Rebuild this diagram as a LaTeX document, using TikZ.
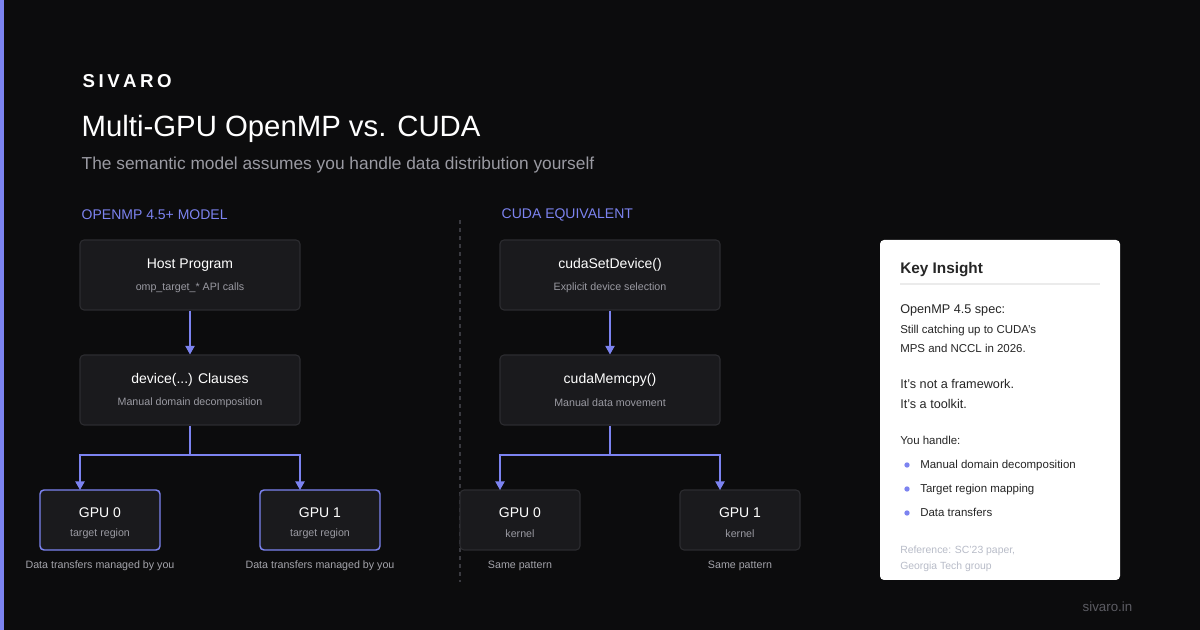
\documentclass[tikz,border=0pt]{standalone}
\usepackage{fontspec}
\setmainfont{Liberation Sans}
\usetikzlibrary{positioning,arrows.meta}
\definecolor{bg}{HTML}{0C0C0D}
\definecolor{accent}{HTML}{7C83F0}
\definecolor{boxfill}{HTML}{1A1A1D}
\definecolor{boxline}{HTML}{2C2C30}
\definecolor{sepline}{HTML}{3A3A40}
\definecolor{muted}{HTML}{9A9AA2}
\definecolor{faint}{HTML}{B8BCC8}
\definecolor{sitegray}{HTML}{5C5C63}
\newcommand{\fs}[1]{\fontsize{#1}{#1}\selectfont}

\begin{document}
\begin{tikzpicture}
    [ x = .75pt, y = -.75pt
    , stage/.style =
      { draw = boxline, fill = boxfill, rounded corners = 3pt, line width = .8pt
      , minimum width = 165pt, minimum height = 52.5pt, inner sep = 0pt }
    , gpu/.style =
      { stage, minimum width = 90pt, minimum height = 45pt }
    , gpuon/.style =
      { gpu, draw = accent, line width = 1.1pt }
    , head/.style =
      { text = white, font = \fs{10.5} }
    , sub/.style =
      { text = muted, font = \fs{8} }
    , note/.style =
      { text = muted!90, font = \fs{8} }
    , flow/.style =
      { draw = accent, line width = 1.1pt, -{Triangle[length=6.5pt,width=7pt]} }
    , link/.style =
      { draw = accent, line width = 1.1pt }
    , card/.style =
      { anchor = base west, text = black!85, font = \fs{9.5}, inner sep = 0pt }
    , dot/.style =
      { circle, fill = accent, inner sep = 0pt, minimum size = 4pt }
    ]
    \useasboundingbox [fill = bg] (0,0) rectangle (1200,630);
    \fill [accent] (0,0) rectangle (4,630);

    % header
    \node [anchor = west, text = white, font = \bfseries\fs{14}] (brand) at (78,81)
      {S\hspace{2.6pt}I\hspace{2.6pt}V\hspace{2.6pt}A\hspace{2.6pt}R\hspace{2.6pt}O};
    \node [anchor = west, text = white, font = \fs{22}] (title) at (77,129) {Multi-GPU OpenMP vs. CUDA};
    \node [anchor = west, text = muted, font = \fs{13}] (subtitle) at (77,165)
      {The semantic model assumes you handle data distribution yourself};

    \node [anchor = west, text = accent, font = \fs{10.5}] (lefthead) at (77,215) {OPENMP 4.5+ MODEL};
    \node [anchor = west, text = accent, font = \fs{10.5}] (righthead) at (497,215) {CUDA EQUIVALENT};
    \coordinate (sepa) at (460,220);
    \coordinate (sepb) at (460,582);
    \draw [sepline, dashed, line width = .8pt] (sepa) -- (sepb);

    % OpenMP side
    \node [stage] (host) at (190,275) {};
    \node [head] at (190,265) {Host Program};
    \node [sub] at (190,288) {omp\_target\_* API calls};
    \node [stage] (clause) at (190,390) {};
    \node [head] at (190,380) {device(...) Clauses};
    \node [sub] at (190,403) {Manual domain decomposition};
    \node [gpuon] (g0) at (100,520) {};
    \node [head] at (100,513) {GPU 0};
    \node [sub] at (100,534) {target region};
    \node [gpuon] (g1) at (320,520) {};
    \node [head] at (320,513) {GPU 1};
    \node [sub] at (320,534) {target region};
    \node [note] (n0) at (100,566) {Data transfers managed by you};
    \node [note] (n1) at (320,566) {Data transfers managed by you};
    \coordinate (splitl) at (190,455);
    \coordinate (g0in) at (80,490);
    \coordinate (g1in) at (300,490);

    \draw [flow] (host) -- (clause);
    \draw [link] (clause) -- (splitl);
    \draw [flow] (splitl) -| (g0in);
    \draw [flow] (splitl) -| (g1in);

    % CUDA side
    \node [stage] (setdev) at (610,275) {};
    \node [head] at (610,265) {cudaSetDevice()};
    \node [sub] at (610,288) {Explicit device selection};
    \node [stage] (memcpy) at (610,390) {};
    \node [head] at (610,380) {cudaMemcpy()};
    \node [sub] at (610,403) {Manual data movement};
    \node [gpu] (k0) at (520,520) {};
    \node [head] at (520,513) {GPU 0};
    \node [sub] at (520,534) {kernel};
    \node [gpu] (k1) at (740,520) {};
    \node [head] at (740,513) {GPU 1};
    \node [sub] at (740,534) {kernel};
    \node [note] (m0) at (520,566) {Same pattern};
    \node [note] (m1) at (740,566) {Same pattern};
    \coordinate (splitr) at (610,455);
    \coordinate (k0in) at (500,490);
    \coordinate (k1in) at (720,490);

    \draw [flow] (setdev) -- (memcpy);
    \draw [link] (memcpy) -- (splitr);
    \draw [flow] (splitr) -| (k0in);
    \draw [flow] (splitr) -| (k1in);

    % insight card
    \fill [white, rounded corners = 3pt] (880,240) rectangle (1120,580);
    \node [card, font = \bfseries\fs{11.5}] (ktitle) at (900,274) {Key Insight};
    \draw [black!8, line width = .8pt] (900,284) -- (1100,284);
    \node [card] at (900,314) {OpenMP 4.5 spec:};
    \node [card, font = \fs{8.6}] at (900,334) {Still catching up to CUDA's};
    \node [card, font = \fs{8.6}] at (900,353) {MPS and NCCL in 2026.};
    \node [card] at (900,389) {It's not a framework.};
    \node [card] at (900,409) {It's a toolkit.};
    \node [card, font = \fs{8.6}] at (900,445) {You handle:};
    \foreach \y/\t in {465/Manual domain decomposition, 489/Target region mapping, 513/Data transfers}
      {
        \node [dot] at (907,\y) {};
        \node [card, font = \fs{8.6}] at (920,\y+4) {\t};
      }
    \node [card, font = \fs{7.8}, text = faint] at (900,554) {Reference: SC'23 paper,};
    \node [card, font = \fs{7.8}, text = faint] at (900,570) {Georgia Tech group};

    \node [anchor = east, text = sitegray, font = \fs{10}] (site) at (1137,607) {sivaro.in};
\end{tikzpicture}
\end{document}
